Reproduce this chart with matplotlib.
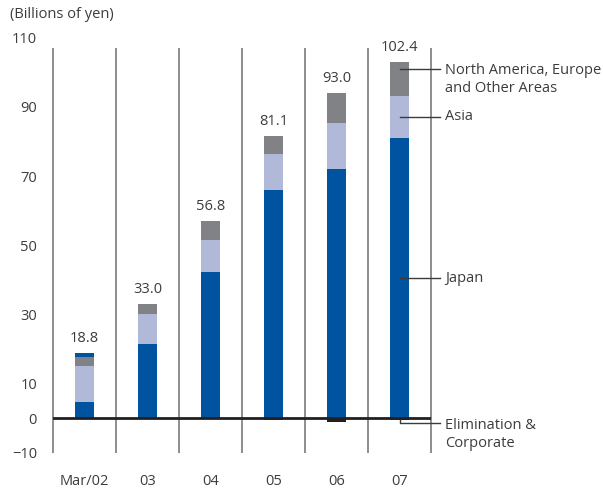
import matplotlib
matplotlib.use("Agg")
import matplotlib.pyplot as plt

plt.rcParams["font.family"] = ["Open Sans", "DejaVu Sans"]

categories = ["Mar/02", "03", "04", "05", "06", "07"]
japan = [4.7, 21.3, 42.4, 65.9, 72.0, 81.0]
asia = [10.3, 8.7, 9.2, 10.4, 13.3, 12.1]
other_areas = [2.8, 3.1, 5.3, 5.2, 8.7, 9.9]
elimination = [1.1, -0.3, -0.1, -0.4, -1.0, -0.6]
totals = [18.8, 33.0, 56.8, 81.1, 93.0, 102.4]
yticks = [-10, 0, 10, 30, 50, 70, 90, 110]

BLUE = "#00549f"
LIGHT = "#b1b9d9"
GRAY = "#808285"
DARK = "#231f20"
TEXT = "#3c3c3c"

fig = plt.figure(figsize=(6.03, 4.88), dpi=100)
ax = fig.add_axes([53 / 603, 1 - 452.7 / 488, 378 / 603, (452.7 - 37.8) / 488])

x = list(range(len(categories)))
w = 0.29
ax.bar(x, japan, width=w, color=BLUE, zorder=2)
ax.bar(x, asia, width=w, bottom=japan, color=LIGHT, zorder=2)
base2 = [j + a for j, a in zip(japan, asia)]
ax.bar(x, other_areas, width=w, bottom=base2, color=GRAY, zorder=2)
base3 = [b + o for b, o in zip(base2, other_areas)]

# elimination: positive stacks on top, negative hangs below zero
elim_colors = [BLUE if e > 0 else DARK for e in elimination]
elim_colors[1] = "#1e9fd8"
elim_bottom = [b if e > 0 else 0 for b, e in zip(base3, elimination)]
ax.bar(x, elimination, width=w, bottom=elim_bottom, color=elim_colors, zorder=2)

tops = [b + max(e, 0) for b, e in zip(base3, elimination)]
for xi, top, t in zip(x, tops, totals):
    ax.annotate(f"{t:.1f}", (xi, top), xytext=(0, 5), textcoords="offset points",
                ha="center", va="bottom", fontsize=10.5, color=TEXT)

ax.vlines([i - 0.5 for i in range(len(categories) + 1)], -10, 107,
          color="#7a7a7a", lw=1.2, zorder=1, clip_on=False)
ax.axhline(0, color=DARK, lw=2, zorder=3)

ax.set_xlim(-0.5, len(categories) - 0.5)
ax.set_ylim(-10, 110)
ax.set_yticks(yticks)
ax.set_xticks(x)
ax.set_xticklabels(categories)
ax.tick_params(axis="y", length=0, pad=11.5, labelsize=10.5, labelcolor=TEXT)
ax.tick_params(axis="x", length=0, pad=15, labelsize=10.5, labelcolor=TEXT)
for s in ax.spines.values():
    s.set_visible(False)

# leader labels to the right of the last bar
last = len(categories) - 1
lx, tx = last + 0.635, last + 0.73
lead = dict(color="#3c3c3c", lw=1.0, clip_on=False, zorder=4)
txt = dict(fontsize=10.5, color=TEXT, ha="left", clip_on=False)
ax.plot([last, lx], [101, 101], **lead)
ax.text(tx, 97.9, "North America, Europe\nand Other Areas", va="center", linespacing=1.3, **txt)
ax.plot([last, lx], [87.1, 87.1], **lead)
ax.text(tx, 87.1, "Asia", va="center", **txt)
ax.plot([last, lx], [40.4, 40.4], **lead)
ax.text(tx, 40.4, "Japan", va="center", **txt)
ax.plot([last, last, lx], [-0.6, -1.3, -1.3], **lead)
ax.text(tx, -4.7, "Elimination &\nCorporate", va="center", linespacing=1.3, **txt)

fig.text(10 / 603, 1 - 15 / 488, "(Billions of yen)", fontsize=10.5, color=TEXT, va="center")

fig.savefig("out.png", dpi=100)
